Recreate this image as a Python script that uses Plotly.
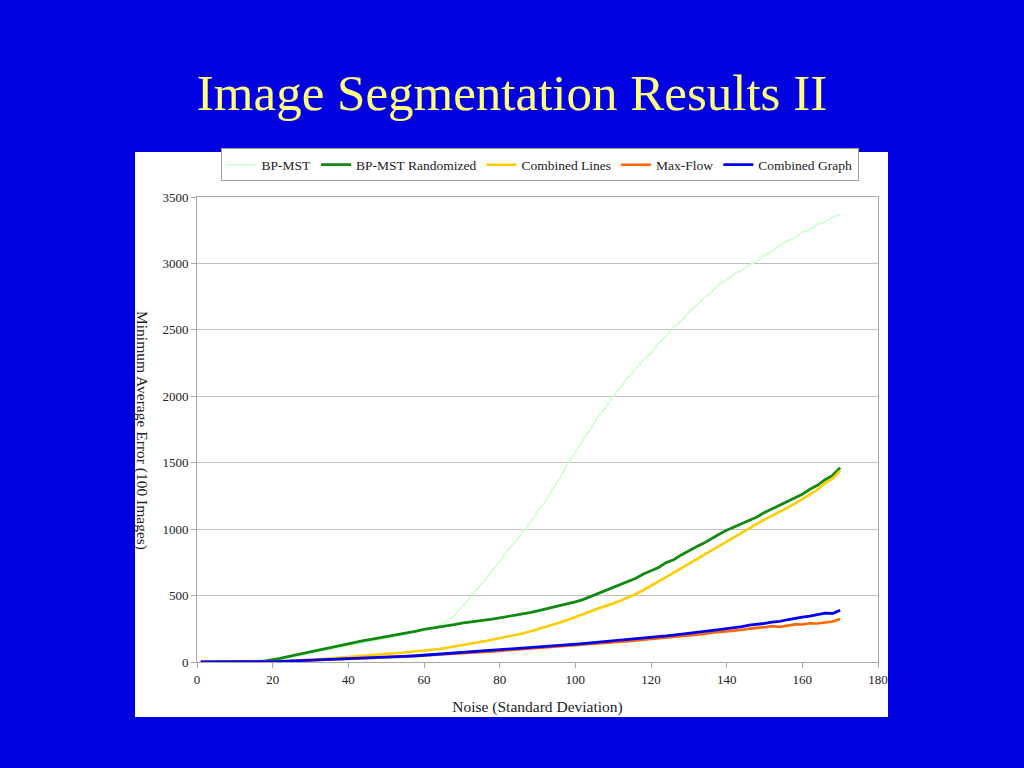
import plotly.graph_objects as go

noise = [1] + list(range(2, 171, 2))

bp_mst = [0, 0, 0, 0, 0, 0, 0, 1, 3, 7, 12, 22, 32, 43, 54, 65, 77, 88, 100, 112, 124,
          135, 146, 157, 168, 180, 191, 203, 215, 228, 242, 256, 276, 306, 350, 410, 478,
          548, 612, 688, 757, 838, 902, 978, 1046, 1133, 1205, 1302, 1390, 1494, 1575,
          1672, 1750, 1845, 1915, 2003, 2070, 2146, 2205, 2275, 2325, 2398, 2450, 2520,
          2566, 2630, 2685, 2738, 2785, 2842, 2875, 2922, 2948, 2990, 3015, 3062, 3090,
          3135, 3168, 3196, 3235, 3255, 3295, 3310, 3350, 3368]

bp_mst_rand = [0, 0, 0, 0, 0, 0, 0, 1, 4, 9, 16, 28, 40, 52, 65, 78, 91, 103, 116, 128, 140,
               150, 160, 170, 180, 190, 201, 211, 222, 233, 246, 254, 263, 272, 282, 292, 301,
               308, 316, 322, 331, 340, 349, 360, 372, 384, 397, 410, 423, 437, 452, 470, 493,
               512, 535, 558, 580, 605, 630, 662, 690, 712, 748, 770, 806, 838, 868, 895, 930,
               962, 992, 1018, 1040, 1070, 1092, 1125, 1152, 1180, 1212, 1238, 1262, 1300,
               1330, 1372, 1405, 1462]

combined_lines = [0, 0, 0, 0, 0, 0, 0, 0, 1, 2, 4, 6, 8, 11, 14, 17, 20, 24, 28, 32, 36,
                  40, 45, 50, 55, 60, 65, 70, 75, 80, 86, 91, 98, 107, 116, 126, 135, 145,
                  156, 167, 178, 190, 202, 215, 230, 245, 262, 280, 298, 318, 335, 356, 380,
                  402, 420, 440, 462, 485, 512, 542, 572, 605, 638, 672, 706, 740, 774, 808,
                  842, 876, 910, 944, 978, 1012, 1040, 1072, 1100, 1132, 1160, 1192, 1225,
                  1262, 1296, 1345, 1382, 1440]

max_flow = [0, 0, 0, 0, 0, 0, 0, 0, 1, 2, 3, 4, 6, 8, 10, 12, 14, 16, 18, 20, 22,
            24, 26, 28, 30, 33, 36, 39, 42, 45, 48, 51, 55, 58, 62, 66, 69, 73, 77, 80,
            84, 88, 92, 96, 100, 104, 108, 112, 117, 121, 125, 130, 134, 139, 143, 148,
            152, 157, 162, 167, 172, 177, 183, 190, 194, 200, 206, 211, 220, 224, 232,
            236, 243, 252, 257, 262, 270, 264, 276, 283, 282, 292, 290, 300, 305, 323]

combined_graph = [0, 0, 0, 0, 0, 0, 0, 0, 1, 2, 3, 5, 7, 9, 11, 13, 15, 17, 19, 21, 23,
                  25, 27, 30, 32, 35, 38, 41, 44, 47, 51, 55, 58, 62, 66, 70, 73, 77, 81,
                  85, 89, 93, 97, 101, 106, 110, 115, 120, 124, 129, 134, 139, 144, 149,
                  154, 158, 163, 168, 172, 178, 183, 188, 196, 203, 209, 215, 224, 229,
                  236, 244, 252, 258, 266, 278, 283, 290, 300, 306, 318, 330, 338, 345,
                  355, 368, 365, 390]

series = [
    ("BP-MST", bp_mst, "#CCFFCC", 1.6),
    ("BP-MST Randomized", bp_mst_rand, "#108A10", 2.8),
    ("Combined Lines", combined_lines, "#FFCC00", 2.6),
    ("Max-Flow", max_flow, "#FF6600", 2.6),
    ("Combined Graph", combined_graph, "#0000EE", 2.8),
]

fig = go.Figure()
for name, vals, color, w in series:
    fig.add_trace(go.Scatter(x=noise, y=vals, mode="lines", name=name,
                             line=dict(color=color, width=w)))

serif = "Liberation Serif, Times New Roman, serif"

fig.update_layout(
    width=1024, height=768,
    paper_bgcolor="#0000E0",
    plot_bgcolor="white",
    margin=dict(l=197, r=146, t=197, b=106),
    showlegend=True,
    legend=dict(orientation="h", x=0.503, y=1.069, xanchor="center", yanchor="middle",
                bgcolor="white", bordercolor="#A0A0A0", borderwidth=1,
                font=dict(family=serif, size=13.5, color="#222"),
                itemwidth=30, tracegroupgap=0),
    title=dict(text="Image Segmentation Results II", x=0.5, xref="container", xanchor="center",
               y=0.88, yanchor="middle",
               font=dict(family=serif, size=51, color="#FFFF80")),
    font=dict(family=serif, color="#222"),
)

fig.add_shape(type="rect", xref="paper", yref="paper",
              x0=(135 - 197) / 681, x1=(888 - 197) / 681,
              y0=(662 - 717) / 465, y1=(662 - 152) / 465,
              fillcolor="white", line=dict(width=0), layer="below")

fig.update_xaxes(range=[0, 180], dtick=20, tick0=0, showgrid=False,
                 showline=True, linecolor="#A8A8A8", linewidth=1, mirror=True,
                 ticks="outside", ticklen=5, tickcolor="#A8A8A8",
                 tickfont=dict(family=serif, size=13, color="#222"),
                 zeroline=False,
                 title=dict(text="Noise (Standard Deviation)", standoff=15,
                            font=dict(family=serif, size=15.5, color="#222")))
fig.update_yaxes(range=[0, 3500], dtick=500, tick0=0, tickformat="d",
                 showgrid=True, gridcolor="#C0C0C0", gridwidth=1,
                 showline=True, linecolor="#A8A8A8", linewidth=1, mirror=True,
                 ticks="outside", ticklen=5, tickcolor="#A8A8A8",
                 tickfont=dict(family=serif, size=13, color="#222"),
                 zeroline=False)

fig.add_annotation(text="Minimum Average Error (100 Images)", textangle=90,
                   xref="paper", yref="paper", x=(142 - 197) / 681, y=(662 - 430) / 465,
                   xanchor="center", yanchor="middle", showarrow=False,
                   font=dict(family=serif, size=15.5, color="#222"))

fig.write_html("out.html", config={"displayModeBar": False},
               post_script="document.body.style.margin='0';document.body.style.background='#0000E0';")
